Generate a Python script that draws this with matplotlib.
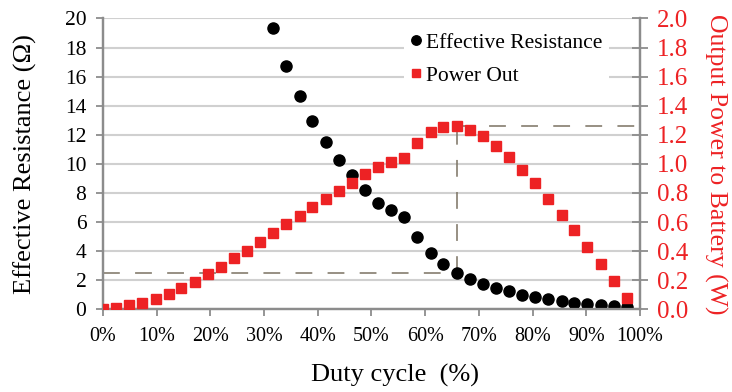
import matplotlib
matplotlib.use("Agg")
import matplotlib.pyplot as plt
from matplotlib.ticker import FuncFormatter

plt.rcParams['font.family'] = ['Liberation Serif', 'DejaVu Serif']

# duty cycle steps (%)
duty = [0.0, 2.4, 4.9, 7.3, 9.8, 12.2, 14.6, 17.1, 19.5, 22.0, 24.4, 26.8, 29.3,
        31.7, 34.1, 36.6, 39.0, 41.5, 43.9, 46.3, 48.8, 51.2, 53.7, 56.1, 58.5,
        61.0, 63.4, 65.9, 68.3, 70.7, 73.2, 75.6, 78.0, 80.5, 82.9, 85.4, 87.8,
        90.2, 92.7, 95.1, 97.6]

# effective resistance only measured from 31.7% upwards
res_duty = duty[13:]
resistance = [19.35, 16.7, 14.66, 12.96, 11.5, 10.28, 9.23, 8.18, 7.31, 6.82,
              6.34, 4.99, 3.87, 3.11, 2.52, 2.06, 1.74, 1.46, 1.24, 1.0, 0.87,
              0.71, 0.57, 0.45, 0.38, 0.32, 0.25, 0.14]

power = [0.0, 0.01, 0.027, 0.043, 0.071, 0.105, 0.144, 0.188, 0.243, 0.293,
         0.35, 0.403, 0.465, 0.524, 0.584, 0.639, 0.701, 0.756, 0.811, 0.868,
         0.928, 0.98, 1.01, 1.042, 1.141, 1.221, 1.251, 1.26, 1.232, 1.191,
         1.124, 1.047, 0.955, 0.866, 0.758, 0.65, 0.543, 0.428, 0.309, 0.195,
         0.076]

# optimum point marked with dashed guides
opt_duty = 65.9
opt_res = 2.52
opt_power = 1.26

red = '#ED2224'
spine_col = '#8c8c8c'
dash_col = '#7a7262'

fig = plt.figure(figsize=(7.32, 3.92), dpi=100)
ax = fig.add_axes([0.1407, 0.211, 0.7336, 0.742])
ax2 = ax.twinx()

ax.set_xlim(0, 100)
ax.set_ylim(0, 20)
ax2.set_ylim(0, 2.0)
ax.set_xticks(range(0, 101, 10))
ax.set_yticks(range(0, 21, 2))
ax2.set_yticks([i / 10 for i in range(0, 21, 2)])
ax.xaxis.set_major_formatter(FuncFormatter(lambda v, p: '%d%%' % v))
ax2.yaxis.set_major_formatter(FuncFormatter(lambda v, p: '%.1f' % v))

ax.grid(axis='y', color='#d0d0d0', linewidth=1.5)
ax.set_axisbelow(True)

for a in (ax, ax2):
    for s in a.spines.values():
        s.set_color(spine_col)
        s.set_linewidth(1.6)
    a.spines['top'].set_visible(False)

ax.tick_params(axis='x', direction='out', length=5, width=1.3, color=spine_col,
               labelsize=14.5, pad=8)
ax.tick_params(axis='y', direction='out', length=5, width=1.3, color=spine_col,
               labelsize=15.5, pad=7)
ax2.tick_params(axis='y', direction='inout', length=12, width=1.3, color=spine_col,
                labelsize=18, labelcolor=red, pad=6)

# dashed guide lines
ax.plot([0, opt_duty], [opt_res, opt_res], color=dash_col, lw=1.1,
        dashes=(11, 10), zorder=2)
ax.plot([opt_duty, opt_duty], [opt_res, opt_power * 10], color=dash_col, lw=1.1,
        dashes=(11, 10), zorder=2)
ax.plot([opt_duty, 100], [opt_power * 10, opt_power * 10], color=dash_col, lw=1.1,
        dashes=(11, 10), zorder=2)

h1, = ax.plot(res_duty, resistance, 'o', color='black', ms=8, ls='none',
              label='Effective Resistance', zorder=3)
h2, = ax2.plot(duty, power, 's', color=red, ms=7.5, ls='none',
               label='Power Out', zorder=3)

leg = ax2.legend(handles=[h1, h2], loc='upper left', bbox_to_anchor=(0.54, 1.01),
                 fontsize=15.5, frameon=True, fancybox=False, framealpha=1,
                 edgecolor='none', facecolor='white', handlelength=0.5,
                 handletextpad=0.25, labelspacing=0.6, borderpad=0.3,
                 markerscale=0.85)

ax.set_xlabel('Duty cycle  (%)', fontsize=19, va='center')
ax.xaxis.set_label_coords(0.544, -0.226)
ax.set_ylabel('Effective Resistance (\u03a9)', fontsize=19, va='center')
ax.yaxis.set_label_coords(-0.145, 0.5)
ax2.set_ylabel('Output Power to Battery (W)', fontsize=18.5, color=red,
               rotation=270, va='center')
ax2.yaxis.set_label_coords(1.14, 0.5)

fig.savefig('out.png', dpi=100)
